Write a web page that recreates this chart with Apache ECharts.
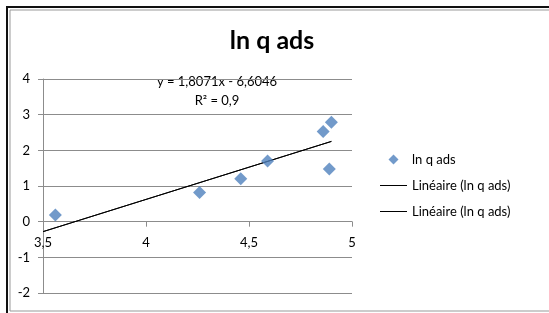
<!DOCTYPE html>
<html>
<head>
<meta charset="utf-8">
<script src="https://cdn.jsdelivr.net/npm/echarts@6/dist/echarts.min.js"></script>
<style>
  html, body { margin: 0; padding: 0; background: #fff; }
  #chart { width: 549px; height: 313px; }
</style>
</head>
<body>
<div id="chart"></div>
<script>
// points
var pointsX = [3.56, 4.26, 4.46, 4.59, 4.86, 4.90, 4.89];
var pointsY = [0.19, 0.82, 1.20, 1.70, 2.53, 2.79, 1.48];
// trend line ends (y = 1,8071x - 6,6046)
var trendX = [3.5, 4.9];
var trendY = [-0.28, 2.25];
var seriesName = 'ln q ads';
var trendName1 = 'Linéaire (ln q ads)';
var trendName2 = 'Linéaire (ln q ads) ';
var equationText = 'y = 1,8071x - 6,6046';
var r2Text = 'R² = 0,9';

var pairs = function (xs, ys) {
  return xs.map(function (x, i) { return [x, ys[i]]; });
};

var font = 'Lato, "Open Sans", sans-serif';
var lineIcon = 'path://M0,0L27,0L27,1L0,1Z';
var myCharts = echarts.init(document.getElementById('chart'));
var options = {
  animation: false,
  textStyle: { fontFamily: font },
  title: {
    text: 'ln q ads',
    left: 267,
    top: 23,
    textAlign: 'center',
    textStyle: { fontSize: 25, fontWeight: 'bold', color: '#000', fontFamily: font }
  },
  legend: {
    orient: 'vertical',
    left: 375,
    top: 148,
    itemGap: 13,
    itemWidth: 27,
    itemHeight: 10,
    symbolKeepAspect: true,
    textStyle: { fontSize: 13, color: '#000', fontFamily: font },
    data: [
      { name: seriesName, icon: 'path://M5,0L10,5L5,10L0,5Z', itemStyle: { color: '#4f81bd' } },
      { name: trendName1, icon: lineIcon, itemStyle: { color: '#000' } },
      { name: trendName2, icon: lineIcon, itemStyle: { color: '#000' } }
    ],
    formatter: function (n) { return n.trim(); }
  },
  grid: { left: 43, right: 197, top: 79, bottom: 20 },
  xAxis: {
    type: 'value',
    min: 3.5,
    max: 5,
    interval: 0.5,
    position: 'bottom',
    offset: -71.33,
    axisLine: { onZero: false, lineStyle: { color: '#8c8c8c' } },
    axisTick: { show: true, length: 5, lineStyle: { color: '#8c8c8c' } },
    axisLabel: {
      margin: 15, fontSize: 13, color: '#000', fontFamily: font,
      formatter: function (v) { return String(v).replace('.', ','); }
    },
    splitLine: { show: false }
  },
  yAxis: {
    type: 'value',
    min: -2,
    max: 4,
    interval: 1,
    axisLine: { show: true, lineStyle: { color: '#8c8c8c' } },
    axisTick: { show: true, length: 5, lineStyle: { color: '#8c8c8c' } },
    axisLabel: { margin: 13, fontSize: 13, color: '#000', fontFamily: font },
    splitLine: { show: true, lineStyle: { color: '#8c8c8c' } }
  },
  graphic: [
    { type: 'rect', shape: { x: 7, y: 7, width: 600, height: 400 }, style: { fill: 'none', stroke: '#111', lineWidth: 2 } },
    { type: 'rect', shape: { x: 10, y: 10, width: 600, height: 301 }, style: { fill: 'none', stroke: '#999', lineWidth: 1 } },
    { type: 'text', x: 217, y: 75, style: { text: equationText, align: 'center', fontSize: 13, fill: '#000', fontFamily: font } },
    { type: 'text', x: 217, y: 94, style: { text: r2Text, align: 'center', fontSize: 13, fill: '#000', fontFamily: font } }
  ],
  series: [
    {
      name: seriesName,
      type: 'scatter',
      symbol: 'diamond',
      symbolSize: [13, 13],
      itemStyle: { color: '#4f81bd' },
      data: pairs(pointsX, pointsY),
      z: 3
    },
    {
      name: trendName1,
      type: 'line',
      showSymbol: false,
      lineStyle: { color: '#000', width: 1 },
      itemStyle: { color: '#000' },
      data: pairs(trendX, trendY),
      z: 2
    },
    {
      name: trendName2,
      type: 'line',
      showSymbol: false,
      lineStyle: { color: '#000', width: 1 },
      itemStyle: { color: '#000' },
      data: pairs(trendX, trendY),
      z: 2
    }
  ]
};

myCharts.setOption(options);
</script>
</body>
</html>
